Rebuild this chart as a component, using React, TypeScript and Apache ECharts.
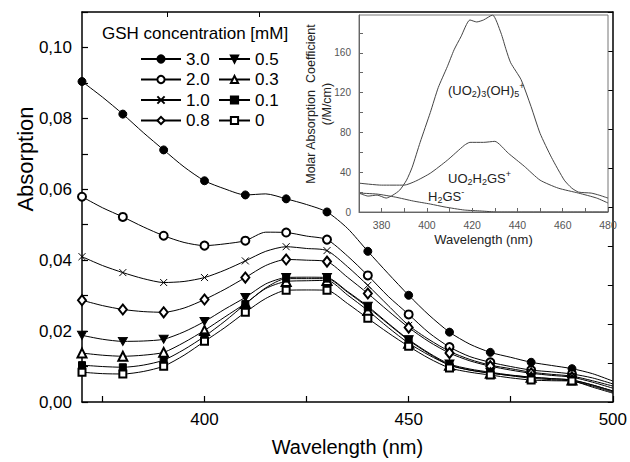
import React, { useEffect, useRef } from "react";
import * as echarts from "echarts";

// ---- Main chart data (wavelength in nm, absorption) ----
const wavelengths = [370, 375, 380, 385, 390, 395, 400, 405, 410, 415, 420, 425, 430, 435, 440, 445, 450, 455, 460, 465, 470, 475, 480, 485, 490, 495, 500];

const c30 = [0.0904, 0.0860, 0.0812, 0.0760, 0.0711, 0.0663, 0.0624, 0.0601, 0.0584, 0.0587, 0.0573, 0.0557, 0.0536, 0.0490, 0.0425, 0.0362, 0.0301, 0.0245, 0.0197, 0.0163, 0.0140, 0.0126, 0.0112, 0.0103, 0.0094, 0.0080, 0.0059];
const c20 = [0.0579, 0.0548, 0.0522, 0.0494, 0.0469, 0.0450, 0.0441, 0.0446, 0.0455, 0.0479, 0.0478, 0.0468, 0.0458, 0.0412, 0.0357, 0.0298, 0.0247, 0.0195, 0.0155, 0.0128, 0.0112, 0.0100, 0.0090, 0.0085, 0.0079, 0.0068, 0.0051];
const c10 = [0.0410, 0.0385, 0.0365, 0.0348, 0.0337, 0.0340, 0.0351, 0.0372, 0.0398, 0.0425, 0.0438, 0.0433, 0.0427, 0.0382, 0.0329, 0.0272, 0.0216, 0.0176, 0.0143, 0.0120, 0.0104, 0.0094, 0.0084, 0.0078, 0.0073, 0.0060, 0.0045];
const c08 = [0.0287, 0.0272, 0.0261, 0.0255, 0.0253, 0.0265, 0.0289, 0.0318, 0.0351, 0.0385, 0.0402, 0.0400, 0.0396, 0.0352, 0.0306, 0.0257, 0.0210, 0.0170, 0.0138, 0.0116, 0.0101, 0.0090, 0.0081, 0.0075, 0.0070, 0.0056, 0.0039];
const c05 = [0.0188, 0.0177, 0.0171, 0.0172, 0.0177, 0.0198, 0.0227, 0.0262, 0.0295, 0.0333, 0.0351, 0.0352, 0.0351, 0.0312, 0.0270, 0.0222, 0.0176, 0.0138, 0.0107, 0.0093, 0.0084, 0.0076, 0.0070, 0.0066, 0.0062, 0.0048, 0.0031];
const c03 = [0.0138, 0.0132, 0.0129, 0.0132, 0.0140, 0.0168, 0.0202, 0.0240, 0.0278, 0.0320, 0.0340, 0.0342, 0.0343, 0.0302, 0.0258, 0.0210, 0.0166, 0.0132, 0.0104, 0.0090, 0.0081, 0.0075, 0.0070, 0.0066, 0.0062, 0.0048, 0.0031];
const c01 = [0.0104, 0.0100, 0.0098, 0.0104, 0.0118, 0.0148, 0.0185, 0.0228, 0.0276, 0.0322, 0.0348, 0.0348, 0.0348, 0.0310, 0.0267, 0.0220, 0.0174, 0.0136, 0.0104, 0.0090, 0.0082, 0.0074, 0.0067, 0.0063, 0.0059, 0.0045, 0.0028];
const c00 = [0.0084, 0.0080, 0.0079, 0.0086, 0.0101, 0.0132, 0.0171, 0.0210, 0.0253, 0.0292, 0.0315, 0.0316, 0.0315, 0.0278, 0.0236, 0.0195, 0.0157, 0.0123, 0.0096, 0.0084, 0.0076, 0.0068, 0.0062, 0.0060, 0.0059, 0.0042, 0.0025];

const concentrations = ["3.0", "2.0", "1.0", "0.8", "0.5", "0.3", "0.1", "0"];
const legendCol1 = ["3.0", "2.0", "1.0", "0.8"];
const legendCol2 = ["0.5", "0.3", "0.1", "0"];

const xLabelValues = [400, 450, 500];
const xTickValues = [375, 400, 425, 450, 475, 500];
const yLabelValues = [0, 0.02, 0.04, 0.06, 0.08, 0.1];
const yTickValues = [0, 0.01, 0.02, 0.03, 0.04, 0.05, 0.06, 0.07, 0.08, 0.09, 0.1, 0.11];

// ---- Inset data ----
const uo3X = [370, 374, 378, 382, 385, 388, 391, 393.5, 397, 401.5, 405, 409, 412, 415, 419, 422, 425, 429, 432.7, 435, 437, 441.6, 446, 450, 455, 460.7, 464, 467, 472.6, 476, 480];
const uo3Y = [19, 16, 17, 14, 17, 22, 32, 45, 70, 100, 125, 146, 163, 176, 193, 191, 193, 198, 180, 163, 150, 133, 106, 79, 55, 32, 24, 20, 19, 17, 14];
const uoGsX = [370, 380, 390, 395, 401.5, 409, 416.5, 419, 425, 430, 436, 443, 450, 458, 467, 475, 480];
const uoGsY = [29, 27, 27, 31, 39, 52, 67, 70, 70, 71, 59, 46, 32, 24, 19, 14, 9];
const h2gsX = [370, 378, 386, 394, 401.5, 408, 416.5, 424, 431, 440, 460, 480];
const h2gsY = [19, 18, 15, 11, 8, 5, 2, 1, 0, 0, 0, 0];

const insetXLabels = [380, 400, 420, 440, 460, 480];
const insetXTicks = [380, 390, 400, 410, 420, 430, 440, 450, 460, 470, 480];
const insetYLabels = [0, 40, 80, 120, 160];
const insetYTicks = [0, 20, 40, 60, 80, 100, 120, 140, 160, 180];

const FONT = '"Liberation Sans", Arial, Helvetica, sans-serif';
const SYM_DOWN = "path://M0,0L10,0L5,9Z";
const SYM_CROSS = "path://M0,0L10,10M10,0L0,10";

const seriesValues = [c30, c20, c10, c08, c05, c03, c01, c00];
const seriesSymbols = ["circle", "emptyCircle", SYM_CROSS, "emptyDiamond", SYM_DOWN, "emptyTriangle", "rect", "emptyRect"];
const seriesSymbolSizes: any[] = [8, 8, 7, [8, 10], [9, 8], 9, 7, 7];

function zip(xs: number[], ys: number[]) {
  return xs.map((x, i) => [x, ys[i]]);
}

export default function App() {
  const ref = useRef<HTMLDivElement>(null);

  useEffect(() => {
    if (!ref.current) return;
    const chart = echarts.init(ref.current, null, { renderer: "svg" });

    const mainSeries = concentrations.map((name, k) => ({
      name,
      type: "line",
      xAxisIndex: 0,
      yAxisIndex: 0,
      smooth: 0.25,
      clip: false,
      symbol: seriesSymbols[k],
      symbolSize: seriesSymbolSizes[k],
      lineStyle: { color: "#000", width: 1 },
      itemStyle: { color: "#000", borderColor: "#000", borderWidth: 1 },
      emphasis: { disabled: true },
      data: wavelengths.map((w, i) => {
        const marked = w % 10 === 0 && w <= 490;
        return marked
          ? { value: [w, seriesValues[k][i]] }
          : { value: [w, seriesValues[k][i]], symbol: "none" };
      }),
      z: 3,
    }));

    const insetLine = (name: string, xs: number[], ys: number[]) => ({
      name,
      type: "line",
      xAxisIndex: 2,
      yAxisIndex: 2,
      showSymbol: false,
      symbol: "none",
      smooth: 0.2,
      lineStyle: { color: "#444", width: 1 },
      emphasis: { disabled: true },
      data: zip(xs, ys),
      z: 5,
    });

    const legendBase = {
      orient: "vertical",
      top: 49,
      itemHeight: 9,
      itemGap: 0.5,
      padding: 0,
      selectedMode: false,
      textStyle: { fontSize: 17, fontFamily: FONT, color: "#000", lineHeight: 20 },
    };

    const richSub = { fontSize: 9, fontFamily: FONT, fill: "#222", padding: [8, 0, 0, 0] };
    const richSup = { fontSize: 9, fontFamily: FONT, fill: "#222", padding: [0, 0, 8, 0] };

    const option: any = {
      animation: false,
      backgroundColor: "#fff",
      textStyle: { fontFamily: FONT },
      grid: [
        { left: 82, top: 12, width: 535, height: 392, show: false },
        { left: 359, top: 15, width: 249, height: 197, show: true, backgroundColor: "#fff", borderColor: "#777", borderWidth: 1, z: 4 },
      ],
      xAxis: [
        {
          type: "value",
          gridIndex: 0,
          min: 370,
          max: 500,
          position: "bottom",
          axisLine: { show: true, onZero: false, lineStyle: { color: "#000", width: 1.5 } },
          axisTick: { show: true, inside: true, length: 6, customValues: xTickValues, lineStyle: { color: "#000", width: 1.2 } },
          axisLabel: { show: true, customValues: xLabelValues, fontSize: 17, fontFamily: FONT, color: "#000", margin: 9 },
          splitLine: { show: false },
          name: "Wavelength (nm)",
          nameLocation: "middle",
          nameGap: 35,
          nameTextStyle: { fontSize: 20, fontFamily: FONT, color: "#000" },
        },
        {
          type: "value",
          gridIndex: 0,
          min: 370,
          max: 500,
          position: "top",
          axisLine: { show: true, onZero: false, lineStyle: { color: "#000", width: 1.5 } },
          axisTick: { show: true, inside: true, length: 5, customValues: [391, 413.3], lineStyle: { color: "#000" } },
          axisLabel: { show: false },
          splitLine: { show: false },
        },
        {
          type: "value",
          gridIndex: 1,
          min: 370,
          max: 480,
          position: "bottom",
          axisLine: { show: true, onZero: false, lineStyle: { color: "#666", width: 1 } },
          axisTick: { show: true, inside: true, length: 4, customValues: insetXTicks, lineStyle: { color: "#666" } },
          axisLabel: { show: true, customValues: insetXLabels, fontSize: 10.5, fontFamily: FONT, color: "#555", margin: 7 },
          splitLine: { show: false },
          name: "Wavelength (nm)",
          nameLocation: "middle",
          nameGap: 21,
          nameTextStyle: { fontSize: 13, fontFamily: FONT, color: "#222" },
          z: 6,
        },
      ],
      yAxis: [
        {
          type: "value",
          gridIndex: 0,
          min: 0,
          max: 0.11,
          position: "left",
          axisLine: { show: true, onZero: false, lineStyle: { color: "#000", width: 1.5 } },
          axisTick: { show: true, inside: true, length: 6, customValues: yTickValues, lineStyle: { color: "#000", width: 1.2 } },
          axisLabel: {
            show: true,
            customValues: yLabelValues,
            fontSize: 17,
            fontFamily: FONT,
            color: "#000",
            margin: 10,
            formatter: (v: number) => v.toFixed(2).replace(".", ","),
          },
          splitLine: { show: false },
        },
        {
          type: "value",
          gridIndex: 0,
          min: 0,
          max: 10,
          interval: 1,
          position: "right",
          axisLine: { show: true, onZero: false, lineStyle: { color: "#000", width: 1.5 } },
          axisTick: { show: true, inside: true, length: 5, lineStyle: { color: "#000" } },
          axisLabel: { show: false },
          splitLine: { show: false },
        },
        {
          type: "value",
          gridIndex: 1,
          min: 0,
          max: 198,
          position: "left",
          axisLine: { show: true, onZero: false, lineStyle: { color: "#666", width: 1 } },
          axisTick: { show: true, inside: true, length: 4, customValues: insetYTicks, lineStyle: { color: "#666" } },
          axisLabel: { show: true, customValues: insetYLabels, fontSize: 10, fontFamily: FONT, color: "#555", margin: 8 },
          splitLine: { show: false },
          z: 6,
        },
      ],
      legend: [
        { ...legendBase, left: 140, itemWidth: 40, data: legendCol1 },
        { ...legendBase, left: 218, itemWidth: 31, data: legendCol2 },
      ],
      graphic: [
        {
          type: "text",
          left: 102,
          top: 25,
          style: { text: "GSH concentration [mM]", fontSize: 17, fontFamily: FONT, fill: "#000" },
        },
        {
          type: "text",
          x: 25,
          y: 159,
          rotation: Math.PI / 2,
          style: { text: "Absorption", fontSize: 22, fontFamily: FONT, fill: "#000", align: "center", verticalAlign: "middle" },
        },
        {
          type: "text",
          x: 319,
          y: 104,
          rotation: Math.PI / 2,
          z: 10,
          style: {
            text: "Molar Absorption  Coefficient\n(/M/cm)",
            fontSize: 12.5,
            lineHeight: 16,
            fontFamily: FONT,
            fill: "#222",
            align: "center",
            verticalAlign: "middle",
          },
        },
        {
          type: "text",
          x: 448,
          y: 90,
          z: 10,
          style: {
            text: "(UO{s|2}){s|3}(OH){s|5}{p|+}",
            fontSize: 13,
            fontFamily: FONT,
            fill: "#222",
            verticalAlign: "middle",
            rich: { s: richSub, p: richSup },
          },
        },
        {
          type: "text",
          x: 448,
          y: 178,
          z: 10,
          style: {
            text: "UO{s|2}H{s|2}GS{p|+}",
            fontSize: 13,
            fontFamily: FONT,
            fill: "#222",
            verticalAlign: "middle",
            rich: { s: richSub, p: richSup },
          },
        },
        {
          type: "text",
          x: 428,
          y: 196,
          z: 10,
          style: {
            text: "H{s|2}GS{p|-}",
            fontSize: 13,
            fontFamily: FONT,
            fill: "#222",
            verticalAlign: "middle",
            rich: { s: richSub, p: richSup },
          },
        },
      ],
      series: [
        ...mainSeries,
        insetLine("(UO2)3(OH)5+", uo3X, uo3Y),
        insetLine("UO2H2GS+", uoGsX, uoGsY),
        insetLine("H2GS-", h2gsX, h2gsY),
      ],
    };

    chart.setOption(option);
    return () => chart.dispose();
  }, []);

  return (
    <div
      ref={ref}
      style={{ position: "fixed", left: 0, top: 0, width: 630, height: 462, background: "#fff" }}
    />
  );
}
